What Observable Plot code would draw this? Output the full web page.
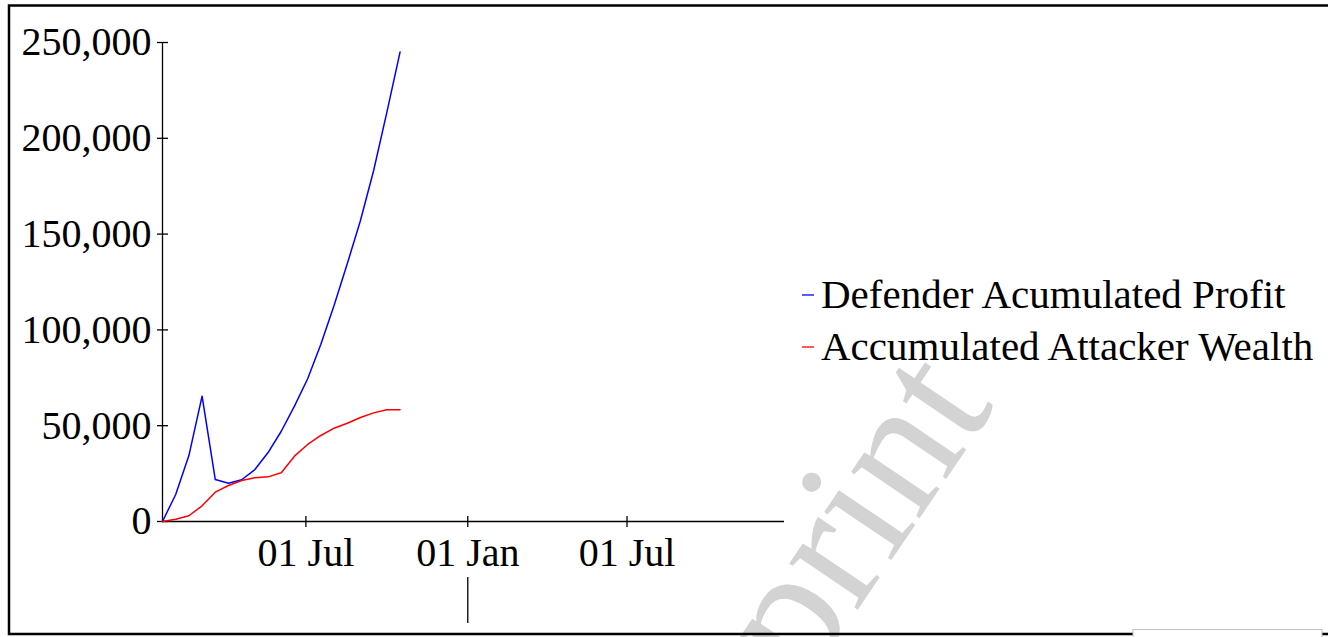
<!DOCTYPE html>
<html>
<head>
<meta charset="utf-8">
<script src="https://cdn.jsdelivr.net/npm/d3@7"></script>
<script src="https://cdn.jsdelivr.net/npm/@observablehq/plot@0.6"></script>
<style>
html, body { margin: 0; padding: 0; background: #fff; overflow: hidden; }
#wrap { position: relative; width: 1328px; height: 637px; overflow: hidden; background: #fff; }
#wrap > svg { position: absolute; left: 0; top: 0; }
</style>
</head>
<body>
<div id="wrap"></div>
<script>
// ---- data ----
const dates = [
  "2021-01-19", "2021-02-03", "2021-02-18", "2021-03-05", "2021-03-20",
  "2021-04-04", "2021-04-19", "2021-05-04", "2021-05-19", "2021-06-03",
  "2021-06-18", "2021-07-03", "2021-07-18", "2021-08-02", "2021-08-17",
  "2021-09-01", "2021-09-16", "2021-10-01", "2021-10-16"
];
const defenderProfit = [
  0, 14100, 34400, 65400, 21900, 20000, 21800, 27100, 36000, 47100,
  60200, 74500, 92500, 112700, 134500, 157100, 183200, 213500, 245000
];
const attackerWealth = [
  0, 1200, 3000, 8200, 15300, 18800, 21400, 22800, 23300, 25400,
  34100, 40200, 44900, 48700, 51300, 54300, 56700, 58300, 58300
];
const seriesNames = ["Defender Acumulated Profit", "Accumulated Attacker Wealth"];
const seriesColors = ["#0000ff", "#ff0000"];
const yTicks = [0, 50000, 100000, 150000, 200000, 250000];
const xTickDates = ["2021-07-01", "2022-01-01", "2022-07-01"];
const yearTickDates = ["2022-01-01"];
const xDomainDates = ["2021-01-19", "2022-12-27"];
const watermarkText = "preprint";

// ---- build ----
const parse = d3.utcParse("%Y-%m-%d");
const rows = [];
dates.forEach((d, i) => {
  rows.push({date: parse(d), value: defenderProfit[i], series: seriesNames[0]});
});
dates.forEach((d, i) => {
  rows.push({date: parse(d), value: attackerWealth[i], series: seriesNames[1]});
});
const xDomain = xDomainDates.map(parse);
const xTicks = xTickDates.map(parse);
const yearTicks = yearTickDates.map(parse);

const W = 1328, H = 637;
const FONT = "'Liberation Serif', 'Times New Roman', serif";

const wrap = document.getElementById("wrap");
const ns = "http://www.w3.org/2000/svg";

// watermark (behind everything)
const back = document.createElementNS(ns, "svg");
back.setAttribute("width", W); back.setAttribute("height", H);
const wm = document.createElementNS(ns, "text");
wm.setAttribute("x", 677); wm.setAttribute("y", 878);
wm.setAttribute("transform", "rotate(-56, 677, 878)");
wm.setAttribute("font-family", FONT);
wm.setAttribute("font-size", 180);
wm.setAttribute("fill", "#d3d3d3");
wm.textContent = watermarkText;
back.appendChild(wm);
wrap.appendChild(back);

const chart = Plot.plot({
  width: W,
  height: H,
  marginLeft: 162,
  marginRight: 544,
  marginTop: 42,
  marginBottom: 116,
  style: {fontFamily: FONT, fontSize: "40px", background: "transparent", color: "#000", maxWidth: "none"},
  x: {type: "utc", domain: xDomain},
  y: {domain: [0, 250000]},
  color: {domain: seriesNames, range: seriesColors},
  marks: [
    Plot.ruleX([xDomain[0]], {stroke: "#000", strokeWidth: 1.3}),
    Plot.ruleY([0], {stroke: "#000", strokeWidth: 1.3}),
    Plot.ruleY(yTicks, {y: d => d, x1: xDomain[0], x2: xDomain[0], insetLeft: -5, insetRight: -6, stroke: "#000", strokeWidth: 1.3}),
    Plot.ruleX(xTicks, {x: d => d, y1: 0, y2: 0, insetTop: -5, insetBottom: -6, stroke: "#000", strokeWidth: 1.3}),
    Plot.ruleX(yearTicks, {x: d => d, y1: 0, y2: 0, insetTop: 56, insetBottom: -102, stroke: "#000", strokeWidth: 1.3}),
    Plot.line(rows, {x: "date", y: "value", z: "series", stroke: "series", strokeWidth: 1.5}),
    Plot.axisY({ticks: yTicks, tickSize: 0, tickPadding: 11, tickFormat: d3.format(","), fontSize: 40, label: null}),
    Plot.axisX({ticks: xTicks, tickSize: 0, tickPadding: 16, tickFormat: d3.utcFormat("%d %b"), fontSize: 40, label: null})
  ]
});
wrap.appendChild(chart);

// legend + frame overlay
const front = document.createElementNS(ns, "svg");
front.setAttribute("width", W); front.setAttribute("height", H);
front.style.pointerEvents = "none";
const legendBaselines = [308, 360];
seriesNames.forEach((name, i) => {
  const y = legendBaselines[i];
  const ln = document.createElementNS(ns, "line");
  ln.setAttribute("x1", 802); ln.setAttribute("x2", 814);
  ln.setAttribute("y1", y - 13); ln.setAttribute("y2", y - 13);
  ln.setAttribute("stroke", seriesColors[i]); ln.setAttribute("stroke-width", 1.3);
  front.appendChild(ln);
  const t = document.createElementNS(ns, "text");
  t.setAttribute("x", 821); t.setAttribute("y", y);
  t.setAttribute("font-family", FONT); t.setAttribute("font-size", 41);
  t.setAttribute("fill", "#000");
  t.textContent = name;
  front.appendChild(t);
});
const frame = document.createElementNS(ns, "path");
frame.setAttribute("d", "M1400,5.5 H9 V634 H1400");
frame.setAttribute("fill", "none"); frame.setAttribute("stroke", "#000"); frame.setAttribute("stroke-width", 2.5);
front.appendChild(frame);
const box = document.createElementNS(ns, "rect");
box.setAttribute("x", 1133); box.setAttribute("y", 629.5);
box.setAttribute("width", 189); box.setAttribute("height", 20);
box.setAttribute("fill", "#fff"); box.setAttribute("stroke", "#c0c0c0"); box.setAttribute("stroke-width", 1);
front.appendChild(box);
wrap.appendChild(front);
</script>
</body>
</html>
